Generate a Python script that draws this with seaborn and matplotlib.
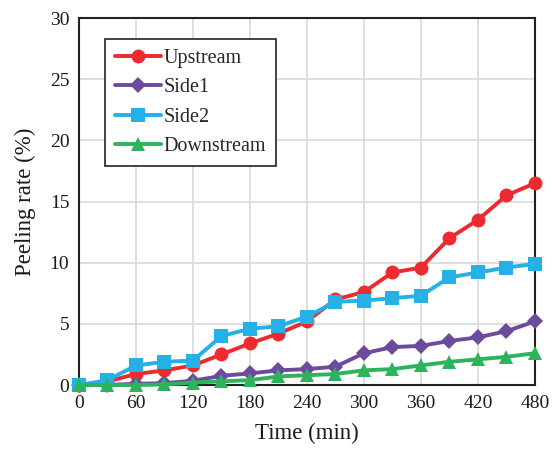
import matplotlib
matplotlib.use("Agg")
import matplotlib.pyplot as plt
import pandas as pd
import seaborn as sns

time_min = [0, 30, 60, 90, 120, 150, 180, 210, 240, 270, 300, 330, 360, 390, 420, 450, 480]
upstream = [0, 0.3, 0.9, 1.2, 1.6, 2.5, 3.4, 4.2, 5.2, 7.0, 7.6, 9.2, 9.6, 12.0, 13.5, 15.5, 16.5]
side1 = [0, 0, 0.1, 0.15, 0.35, 0.75, 0.95, 1.2, 1.3, 1.5, 2.6, 3.1, 3.2, 3.6, 3.9, 4.4, 5.2]
side2 = [0, 0.4, 1.6, 1.9, 2.0, 4.0, 4.6, 4.8, 5.6, 6.8, 6.9, 7.1, 7.3, 8.8, 9.2, 9.6, 9.9]
downstream = [0, 0, 0, 0.05, 0.2, 0.3, 0.4, 0.7, 0.8, 0.9, 1.2, 1.3, 1.6, 1.9, 2.1, 2.3, 2.6]

series = ["Upstream", "Side1", "Side2", "Downstream"]
colors = ["#ED2A30", "#6C4B9E", "#25B0E6", "#2DB35C"]
markers = ["o", "D", "s", "^"]
sizes = [10, 8, 10, 10]

df = pd.DataFrame({"Time": time_min, "Upstream": upstream, "Side1": side1,
                   "Side2": side2, "Downstream": downstream})
long = df.melt(id_vars="Time", var_name="Location", value_name="Rate")

sns.set_style("whitegrid")
plt.rcParams['font.family'] = ['Liberation Serif', 'DejaVu Serif']

fig = plt.figure(figsize=(5.54, 4.55), dpi=100)
ax = fig.add_axes([0.1426, 0.1538, 0.823, 0.8066])

for name, c, m, s in zip(series, colors, markers, sizes):
    sub = long[long["Location"] == name]
    sns.lineplot(data=sub, x="Time", y="Rate", ax=ax, color=c, marker=m,
                 markersize=s, markeredgewidth=0, linewidth=2.8, label=name,
                 clip_on=False, zorder=3)

ax.set_xlim(0, 480)
ax.set_ylim(0, 30)
ax.set_xticks(range(0, 481, 60))
ax.set_yticks(range(0, 31, 5))
ax.grid(True, color="#d9d9d9", linewidth=1.2)
ax.tick_params(axis="both", labelsize=14, length=0, pad=7, colors="#1a1a1a")
for sp in ax.spines.values():
    sp.set_color("#222222")
    sp.set_linewidth(1.5)
    sp.set_zorder(2)
ax.set_xlabel("Time (min)", fontsize=16.5, color="#1a1a1a", labelpad=8)
ax.set_ylabel("Peeling rate (%)", fontsize=16.5, color="#1a1a1a", labelpad=10)

leg = ax.legend(loc="upper left", bbox_to_anchor=(0.035, 0.97), fontsize=14.5,
                frameon=True, fancybox=False, handlelength=2.3, borderpad=0.5,
                labelspacing=0.5, handletextpad=0.1)
leg.get_frame().set_edgecolor("#222222")
leg.get_frame().set_linewidth(1.2)
leg.get_frame().set_alpha(1)

fig.savefig("out.png", dpi=100)
